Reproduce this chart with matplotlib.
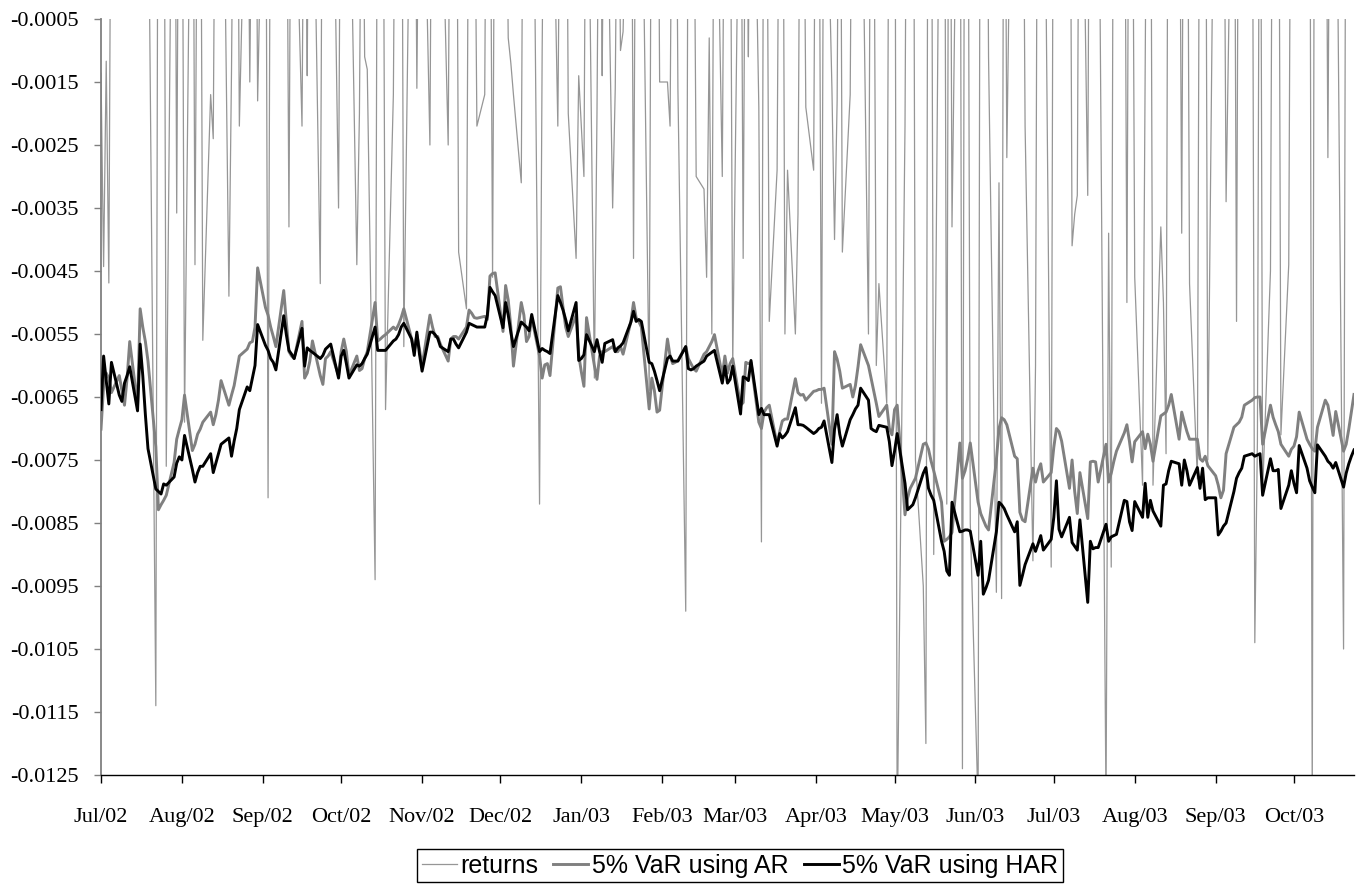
import numpy as np
import pandas as pd
import matplotlib
matplotlib.use("Agg")
import matplotlib.pyplot as plt
import matplotlib.dates as mdates
from matplotlib.ticker import FormatStrFormatter
from matplotlib.font_manager import FontProperties

# ---------------- data (one value per trading day, Jul 1 2002 .. Oct 24 2003) ----------------
start_date = "2002-07-01"
end_date = "2003-10-24"

returns = [
    # Jul 02
    -0.00136, -0.00443, -0.00117, -0.00469, 0.0041, 0.0062, 0.0035, 0.0028, 0.0053, 0.0047, 0.0039, 0.0061,
    0.0032, 0.0044, 0.0025, -0.0114, 0.0058, 0.0072, 0.0049, -0.0076, 0.0063, -0.00358, 0.0045,
    # Aug 02
    0.0038, -0.0069, 0.0052, -0.0044, 0.0031, 0.0046, -0.0056, -0.0017, -0.0024, 0.0042, 0.0027, 0.0055,
    -0.0049, -0.0013, 0.0036, 0.0048, -0.0022, 0.0033, -0.0015, 0.0029, 0.0051, -0.0018,
    # Sep 02
    0.0044, -0.0081, 0.0037, 0.0029, 0.0052, 0.0040, 0.0034, -0.0038, 0.0047, 0.0026, -0.0022, 0.0039,
    -0.0014, 0.0058, 0.0031, -0.0047, 0.0043, 0.0036, 0.0027, 0.0049, -0.0035,
    # Oct 02
    0.0042, 0.0033, 0.0051, 0.0028, -0.0044, -0.0020, 0.0037, -0.0011, -0.0013, -0.0094, 0.0046, 0.0061,
    0.0035, -0.0067, -0.0017, 0.0043, 0.0029, 0.0054, -0.0057, 0.0038, 0.0047, -0.0016, 0.0032,
    # Nov 02
    0.0036, -0.0025, 0.0048, 0.0031, 0.0055, 0.0027, -0.0025, 0.0042, 0.0033, 0.0050, -0.0042, -0.0051,
    0.0039, 0.0046, 0.0028, -0.0022, -0.0017, 0.0057, 0.0035, -0.0046, 0.0041,
    # Dec 02
    0.0044, 0.0030, -0.0008, -0.0012, -0.0017, -0.0031, 0.0049, 0.0036, 0.0027, 0.0053, -0.0082, -0.0010,
    0.0040, 0.0034, 0.0046, -0.0022, 0.0029, 0.0038, 0.0051, -0.0020, -0.0043, -0.0014,
    # Jan 03
    -0.0022, -0.0030, 0.0045, -0.0062, -0.0020, 0.0037, -0.0014, 0.0041, -0.0035, -0.0016, 0.0032, -0.0010,
    -0.0007, 0.0048, -0.0043, 0.0036, 0.0052, 0.0029, -0.0064, 0.0043, 0.0031, 0.0055, -0.0015,
    # Feb 03
    -0.0015, -0.0022, 0.0039, 0.0047, -0.0016, -0.0099, 0.0034, 0.0051, 0.0028, -0.0030, -0.0032, -0.0046,
    -0.0008, -0.0055, 0.0042, -0.0030, 0.0036, 0.0049, 0.0031, -0.0060,
    # Mar 03
    0.0040, -0.0043, 0.0033, -0.0011, 0.0052, -0.0019, -0.0088, 0.0045, 0.0030, -0.0053, -0.0029, 0.0038,
    0.0056, -0.0055, -0.0029, -0.0055, -0.0036, 0.0041, 0.0034, -0.0019, -0.0029,
    # Apr 03
    0.0047, 0.0032, -0.0066, 0.0039, -0.0016, -0.0040, -0.0018, 0.0053, -0.0042, -0.0017, 0.0044, 0.0031,
    0.0058, 0.0036, -0.0055, 0.0048, 0.0027, -0.0060, -0.0047, -0.0066, 0.0042, 0.0035,
    # May 03
    0.0061, -0.0135, -0.0022, 0.0057, 0.0043, 0.0068, -0.0075, -0.0095, -0.0120, 0.0072, 0.0049, -0.0090,
    0.0064, 0.0053, -0.0082, 0.0070, -0.0038, 0.0059, -0.0124, 0.0066, 0.0048, -0.0085,
    # Jun 03
    -0.0130, 0.0071, 0.0054, 0.0063, -0.0011, -0.0096, -0.0031, -0.0097, 0.0058, -0.0027, 0.0067, 0.0049,
    0.0056, 0.0044, -0.0022, -0.0091, -0.0060, 0.0062, 0.0051, 0.0047, -0.0092,
    # Jul 03
    0.0058, 0.0046, 0.0063, 0.0039, 0.0052, -0.0041, -0.0036, -0.0033, 0.0055, -0.0033, 0.0061, 0.0044,
    0.0050, 0.0037, -0.0130, -0.0039, -0.0092, 0.0057, 0.0048, 0.0042, -0.0050, 0.0053, 0.0040,
    # Aug 03
    -0.0046, -0.0079, -0.0013, 0.0052, 0.0045, -0.0079, -0.0038, -0.0050, -0.0074, 0.0060, 0.0043, 0.0038,
    -0.0039, 0.0056, 0.0047, -0.0047, -0.0078, 0.0049, 0.0036, 0.0054, -0.0075,
    # Sep 03
    0.0051, 0.0043, 0.0062, 0.0038, -0.0034, 0.0047, -0.0053, 0.0055, 0.0040, 0.0046, 0.0036, -0.0104,
    -0.0072, 0.0058, -0.0080, -0.0045, 0.0049, 0.0041, 0.0053, -0.0071, -0.0044, 0.0048,
    # Oct 03
    0.0052, 0.0045, 0.0039, 0.0057, 0.0048, -0.0130, 0.0061, 0.0043, 0.0050, -0.0027, 0.0046, 0.0055,
    0.0038, -0.0105, 0.0049, 0.0044, 0.0058, 0.0041,
]

var_ar = [
    # Jul 02
    -0.00701, -0.00632, -0.00612, -0.00620, -0.00643, -0.00616, -0.00640, -0.00663, -0.00620, -0.00562, -0.00663, -0.00510,
    -0.00539, -0.00562, -0.00593, -0.00729, -0.00829, -0.00821, -0.00814, -0.00806, -0.00754, -0.00717, -0.00701,
    # Aug 02
    -0.00686, -0.00647, -0.00735, -0.00725, -0.00709, -0.00701, -0.00690, -0.00674, -0.00694, -0.00678, -0.00655, -0.00624,
    -0.00663, -0.00647, -0.00632, -0.00608, -0.00585, -0.00574, -0.00564, -0.00562, -0.00539, -0.00445,
    # Sep 02
    -0.00508, -0.00520, -0.00539, -0.00554, -0.00570, -0.00481, -0.00531, -0.00578, -0.00585, -0.00589, -0.00530, -0.00620,
    -0.00612, -0.00593, -0.00561, -0.00616, -0.00630, -0.00589, -0.00585, -0.00578, -0.00616,
    # Oct 02
    -0.00578, -0.00558, -0.00578, -0.00616, -0.00585, -0.00608, -0.00605, -0.00589, -0.00578, -0.00500, -0.00561, -0.00558,
    -0.00554, -0.00551, -0.00539, -0.00543, -0.00535, -0.00524, -0.00510, -0.00558, -0.00578, -0.00551, -0.00574,
    # Nov 02
    -0.00601, -0.00520, -0.00539, -0.00554, -0.00554, -0.00566, -0.00593, -0.00558, -0.00554, -0.00554, -0.00558, -0.00539,
    -0.00512, -0.00517, -0.00524, -0.00525, -0.00522, -0.00527, -0.00458, -0.00454, -0.00453,
    # Dec 02
    -0.00546, -0.00473, -0.00496, -0.00539, -0.00601, -0.00500, -0.00520, -0.00562, -0.00554, -0.00524, -0.00585, -0.00620,
    -0.00599, -0.00597, -0.00616, -0.00477, -0.00475, -0.00508, -0.00539, -0.00554, -0.00520, -0.00583,
    # Jan 03
    -0.00610, -0.00633, -0.00524, -0.00600, -0.00622, -0.00585, -0.00578, -0.00578, -0.00570, -0.00578, -0.00578, -0.00570,
    -0.00582, -0.00530, -0.00500, -0.00524, -0.00530, -0.00539, -0.00669, -0.00620, -0.00640, -0.00674, -0.00671,
    # Feb 03
    -0.00558, -0.00585, -0.00597, -0.00595, -0.00592, -0.00570, -0.00589, -0.00597, -0.00605, -0.00609, -0.00582, -0.00578,
    -0.00570, -0.00562, -0.00551, -0.00616, -0.00585, -0.00612, -0.00597, -0.00589,
    # Mar 03
    -0.00663, -0.00659, -0.00595, -0.00597, -0.00595, -0.00690, -0.00700, -0.00674, -0.00667, -0.00663, -0.00725, -0.00705,
    -0.00688, -0.00685, -0.00685, -0.00621, -0.00643, -0.00647, -0.00646, -0.00655, -0.00641,
    # Apr 03
    -0.00640, -0.00638, -0.00638, -0.00636, -0.00725, -0.00578, -0.00590, -0.00609, -0.00636, -0.00630, -0.00650, -0.00632,
    -0.00602, -0.00567, -0.00600, -0.00620, -0.00640, -0.00660, -0.00681, -0.00663, -0.00700, -0.00710,
    # May 03
    -0.00670, -0.00663, -0.00837, -0.00810, -0.00795, -0.00787, -0.00779, -0.00725, -0.00723, -0.00733, -0.00752, -0.00767,
    -0.00817, -0.00879, -0.00876, -0.00872, -0.00865, -0.00723, -0.00779, -0.00767, -0.00748, -0.00723,
    # Jun 03
    -0.00817, -0.00835, -0.00845, -0.00855, -0.00861, -0.00750, -0.00700, -0.00683, -0.00686, -0.00694, -0.00744, -0.00748,
    -0.00833, -0.00845, -0.00848, -0.00763, -0.00785, -0.00767, -0.00756, -0.00785, -0.00770,
    # Jul 03
    -0.00730, -0.00700, -0.00705, -0.00720, -0.00795, -0.00750, -0.00800, -0.00835, -0.00770, -0.00843, -0.00753, -0.00752,
    -0.00753, -0.00785, -0.00725, -0.00785, -0.00771, -0.00752, -0.00736, -0.00707, -0.00694, -0.00721, -0.00753,
    # Aug 03
    -0.00721, -0.00705, -0.00732, -0.00709, -0.00725, -0.00752, -0.00680, -0.00677, -0.00674, -0.00663, -0.00646, -0.00717,
    -0.00674, -0.00690, -0.00705, -0.00717, -0.00717, -0.00748, -0.00752, -0.00744, -0.00759,
    # Sep 03
    -0.00775, -0.00790, -0.00810, -0.00798, -0.00740, -0.00698, -0.00694, -0.00690, -0.00682, -0.00663, -0.00655, -0.00651,
    -0.00650, -0.00650, -0.00725, -0.00663, -0.00682, -0.00694, -0.00705, -0.00725, -0.00744, -0.00733,
    # Oct 03
    -0.00728, -0.00713, -0.00674, -0.00717, -0.00725, -0.00732, -0.00736, -0.00698, -0.00655, -0.00663, -0.00686, -0.00711,
    -0.00673, -0.00736, -0.00725, -0.00701, -0.00674, -0.00646,
]

var_har = [
    # Jul 02
    -0.00670, -0.00585, -0.00624, -0.00661, -0.00595, -0.00647, -0.00657, -0.00628, -0.00616, -0.00602, -0.00672, -0.00566,
    -0.00616, -0.00678, -0.00732, -0.00796, -0.00800, -0.00804, -0.00788, -0.00790, -0.00777, -0.00755, -0.00745,
    # Aug 02
    -0.00750, -0.00711, -0.00765, -0.00785, -0.00770, -0.00760, -0.00760, -0.00740, -0.00770, -0.00755, -0.00740, -0.00725,
    -0.00715, -0.00744, -0.00720, -0.00700, -0.00670, -0.00634, -0.00640, -0.00620, -0.00600, -0.00535,
    # Sep 02
    -0.00568, -0.00576, -0.00589, -0.00595, -0.00607, -0.00521, -0.00551, -0.00576, -0.00582, -0.00589, -0.00541, -0.00601,
    -0.00572, -0.00576, -0.00579, -0.00589, -0.00584, -0.00574, -0.00570, -0.00566, -0.00620,
    # Oct 02
    -0.00585, -0.00576, -0.00597, -0.00620, -0.00599, -0.00601, -0.00597, -0.00589, -0.00582, -0.00539, -0.00576, -0.00576,
    -0.00576, -0.00576, -0.00561, -0.00558, -0.00551, -0.00539, -0.00533, -0.00558, -0.00584, -0.00547, -0.00582,
    # Nov 02
    -0.00609, -0.00547, -0.00547, -0.00551, -0.00557, -0.00570, -0.00578, -0.00558, -0.00558, -0.00566, -0.00572, -0.00547,
    -0.00533, -0.00535, -0.00537, -0.00539, -0.00539, -0.00520, -0.00476, -0.00483, -0.00489,
    # Dec 02
    -0.00540, -0.00500, -0.00520, -0.00547, -0.00570, -0.00531, -0.00535, -0.00539, -0.00545, -0.00519, -0.00578, -0.00573,
    -0.00576, -0.00578, -0.00581, -0.00489, -0.00500, -0.00512, -0.00527, -0.00545, -0.00500, -0.00592,
    # Jan 03
    -0.00589, -0.00583, -0.00551, -0.00578, -0.00559, -0.00578, -0.00595, -0.00565, -0.00559, -0.00578, -0.00572, -0.00569,
    -0.00564, -0.00531, -0.00514, -0.00530, -0.00527, -0.00530, -0.00595, -0.00597, -0.00609, -0.00624, -0.00640,
    # Feb 03
    -0.00589, -0.00585, -0.00593, -0.00593, -0.00593, -0.00570, -0.00605, -0.00607, -0.00605, -0.00601, -0.00593, -0.00585,
    -0.00582, -0.00579, -0.00576, -0.00628, -0.00601, -0.00628, -0.00622, -0.00601,
    # Mar 03
    -0.00677, -0.00618, -0.00620, -0.00624, -0.00592, -0.00678, -0.00668, -0.00678, -0.00678, -0.00678, -0.00728, -0.00708,
    -0.00715, -0.00711, -0.00705, -0.00667, -0.00694, -0.00694, -0.00695, -0.00698, -0.00708,
    # Apr 03
    -0.00705, -0.00700, -0.00698, -0.00688, -0.00754, -0.00701, -0.00678, -0.00709, -0.00728, -0.00686, -0.00678, -0.00669,
    -0.00663, -0.00636, -0.00655, -0.00700, -0.00703, -0.00705, -0.00695, -0.00698, -0.00721, -0.00759,
    # May 03
    -0.00736, -0.00708, -0.00787, -0.00829, -0.00825, -0.00821, -0.00810, -0.00771, -0.00762, -0.00795, -0.00806, -0.00814,
    -0.00879, -0.00895, -0.00926, -0.00933, -0.00817, -0.00864, -0.00863, -0.00861, -0.00861, -0.00863,
    # Jun 03
    -0.00933, -0.00879, -0.00963, -0.00953, -0.00941, -0.00864, -0.00817, -0.00821, -0.00827, -0.00837, -0.00864, -0.00848,
    -0.00949, -0.00933, -0.00916, -0.00883, -0.00895, -0.00883, -0.00870, -0.00893, -0.00876,
    # Jul 03
    -0.00841, -0.00783, -0.00860, -0.00872, -0.00841, -0.00881, -0.00887, -0.00893, -0.00845, -0.00976, -0.00879, -0.00891,
    -0.00889, -0.00889, -0.00852, -0.00879, -0.00872, -0.00870, -0.00868, -0.00814, -0.00816, -0.00848, -0.00862,
    # Aug 03
    -0.00816, -0.00841, -0.00787, -0.00841, -0.00814, -0.00831, -0.00855, -0.00790, -0.00788, -0.00767, -0.00752, -0.00756,
    -0.00790, -0.00750, -0.00767, -0.00790, -0.00762, -0.00795, -0.00763, -0.00813, -0.00810,
    # Sep 03
    -0.00810, -0.00869, -0.00863, -0.00855, -0.00850, -0.00800, -0.00779, -0.00770, -0.00763, -0.00744, -0.00740, -0.00744,
    -0.00742, -0.00740, -0.00806, -0.00748, -0.00767, -0.00767, -0.00765, -0.00827, -0.00790, -0.00767,
    # Oct 03
    -0.00787, -0.00802, -0.00727, -0.00763, -0.00783, -0.00793, -0.00802, -0.00726, -0.00744, -0.00752, -0.00756, -0.00763,
    -0.00754, -0.00793, -0.00771, -0.00756, -0.00744, -0.00734,
]

series_labels = ["returns", "5% VaR using AR", "5% VaR using HAR"]
y_tick_values = [-0.0125, -0.0115, -0.0105, -0.0095, -0.0085, -0.0075, -0.0065,
                 -0.0055, -0.0045, -0.0035, -0.0025, -0.0015, -0.0005]

# ---------------- figure ----------------
dates = pd.bdate_range(start_date, end_date)
n = min(len(dates), len(returns), len(var_ar), len(var_har))
dates = dates[:n]

W, H = 1361, 888
fig = plt.figure(figsize=(W / 100, H / 100), dpi=100)
fig.patch.set_facecolor("white")
left, right, top, bottom = 101, 1354, 19, 775
ax = fig.add_axes([left / W, 1 - bottom / H, (right - left) / W, (bottom - top) / H])

l1, = ax.plot(dates, returns[:n], color="#969696", lw=0.9, label=series_labels[0], zorder=2)
l2, = ax.plot(dates, var_ar[:n], color="#808080", lw=2.1, label=series_labels[1], zorder=3)
l3, = ax.plot(dates, var_har[:n], color="black", lw=2.1, label=series_labels[2], zorder=4)

ax.set_ylim(-0.0125, -0.0005)
ax.set_xlim(pd.Timestamp(start_date), pd.Timestamp(end_date))
ax.set_yticks(y_tick_values)
ax.yaxis.set_major_formatter(FormatStrFormatter("%.4f"))
ax.xaxis.set_major_locator(mdates.MonthLocator())
ax.xaxis.set_major_formatter(mdates.DateFormatter("%b/%y"))

for s in ("top", "right"):
    ax.spines[s].set_visible(False)
ax.spines["left"].set_color("#808080")
ax.spines["left"].set_linewidth(1.3)
ax.spines["bottom"].set_color("black")
ax.spines["bottom"].set_linewidth(1.0)

serif = FontProperties(family=["Liberation Serif", "DejaVu Serif"], size=16)
ax.tick_params(axis="y", direction="out", length=5, width=1, color="#808080", pad=11)
ax.tick_params(axis="x", direction="out", length=6, width=1, color="black", pad=18)
for lab in ax.get_xticklabels() + ax.get_yticklabels():
    lab.set_fontproperties(serif)

sans = FontProperties(family=["Liberation Sans", "DejaVu Sans"], size=18)
leg = fig.legend(handles=[l1, l2, l3], labels=series_labels, loc="center",
                 bbox_to_anchor=(740 / W, 1 - 865.5 / H), ncol=3, frameon=True,
                 fancybox=False, shadow=False, prop=sans, handlelength=1.4,
                 handletextpad=0.15, columnspacing=0.6, borderpad=0.18,
                 borderaxespad=0.0, framealpha=1)
leg.get_frame().set_edgecolor("black")
leg.get_frame().set_linewidth(1.0)

fig.savefig("out.png", dpi=100, facecolor="white")
